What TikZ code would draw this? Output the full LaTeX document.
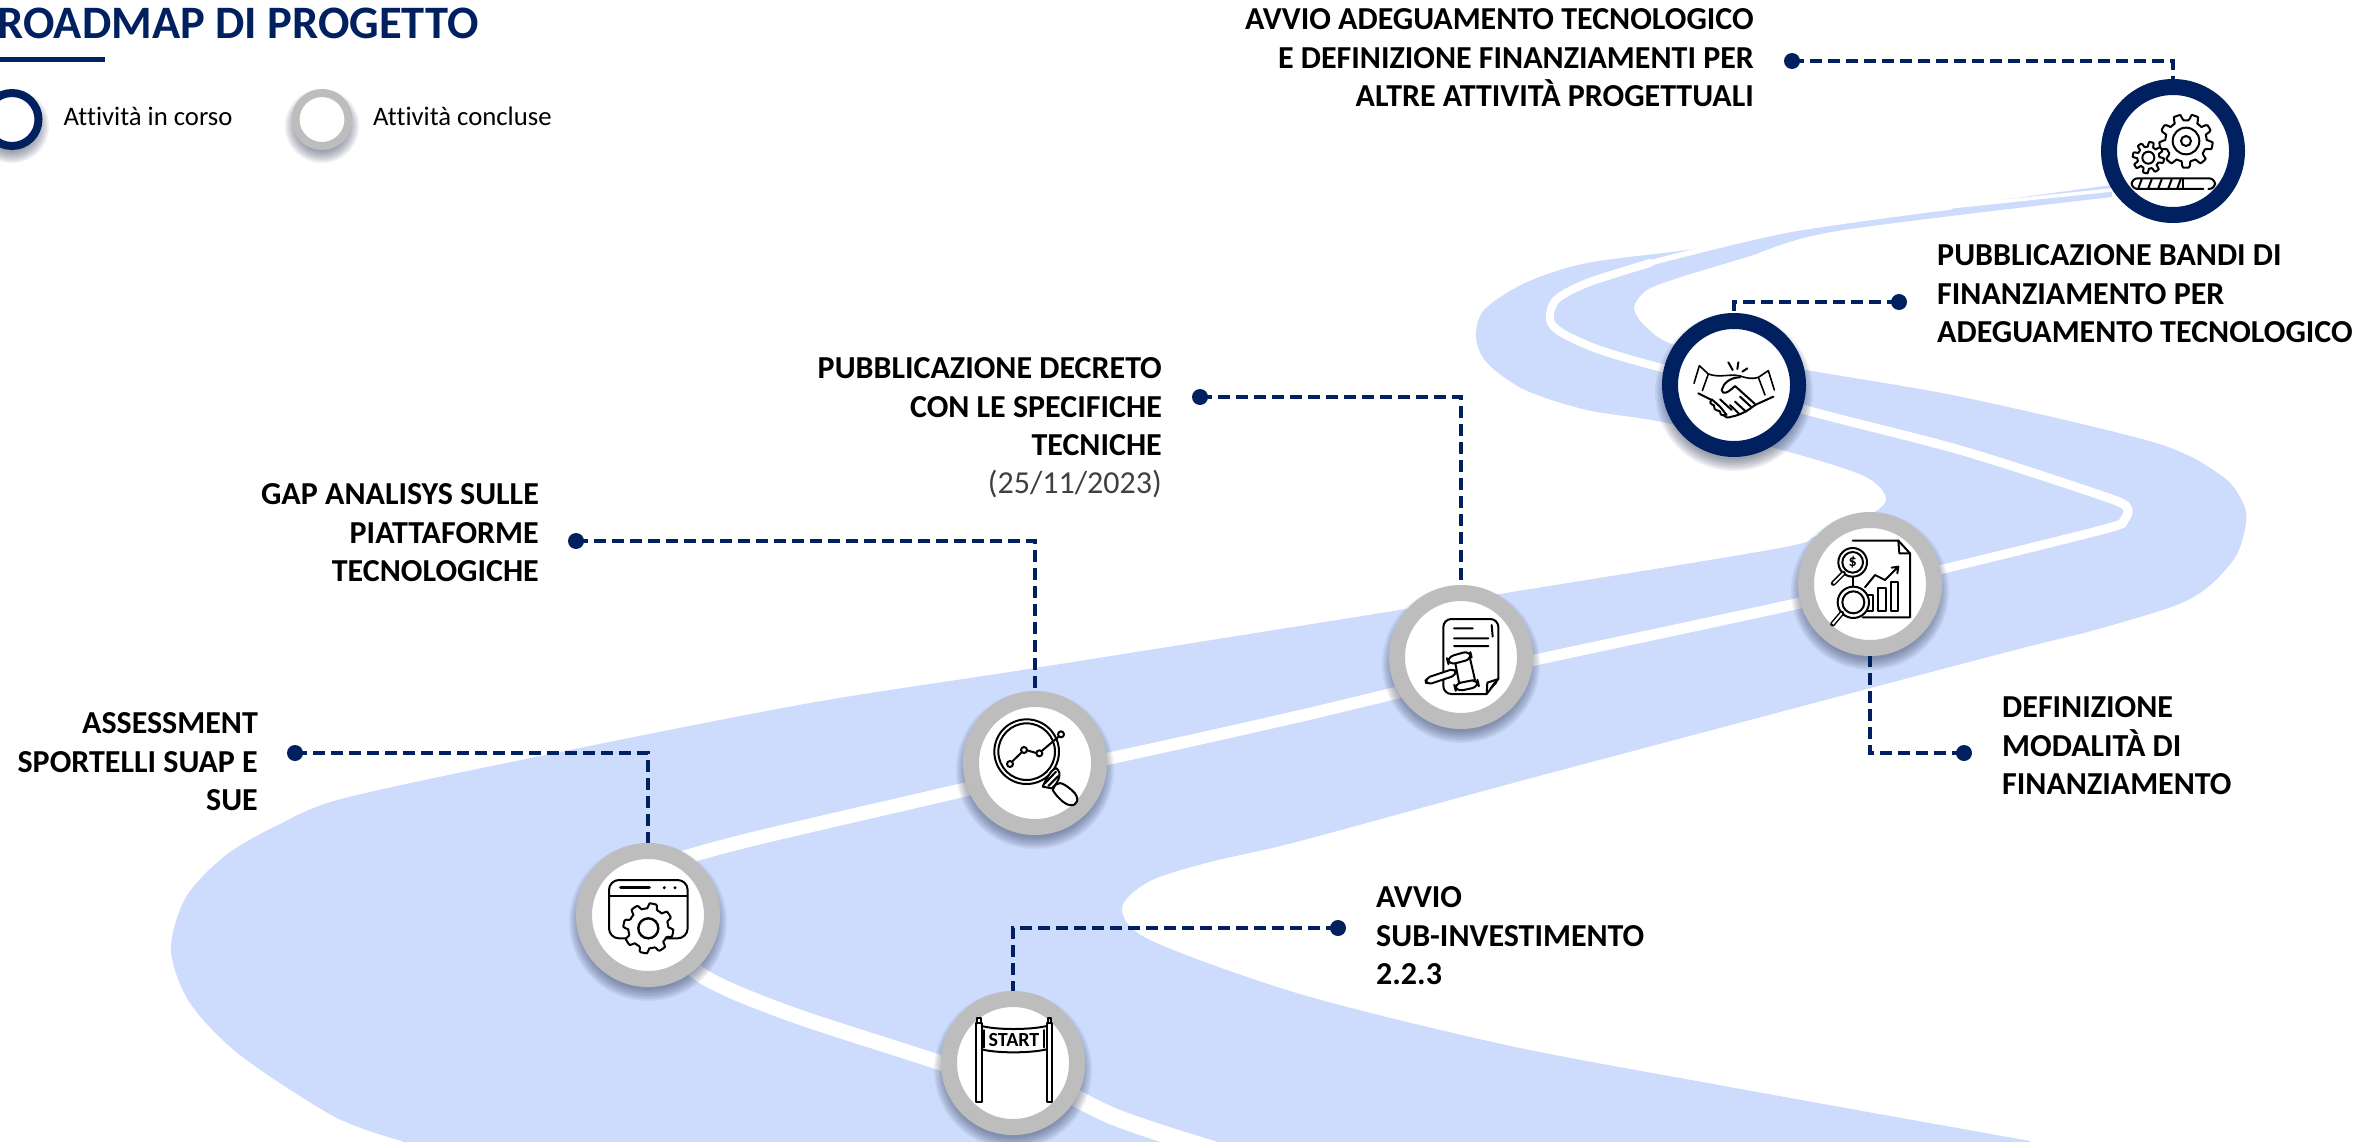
\documentclass[tikz,border=0pt]{standalone}
\usepackage{fontspec}
\setmainfont[Ligatures=NoCommon]{Carlito}
\definecolor{navy}{HTML}{002060}
\definecolor{road}{HTML}{CDDBFD}
\definecolor{ringg}{HTML}{BDBDBD}
\definecolor{shad}{HTML}{2A3550}
\newcommand{\softshadow}[3]{%
  \foreach \k in {0,...,7}{\fill[shad,opacity=0.07] (#1,#2+7) circle ({#3+7-1.6*\k});}}
\newcommand{\gearicon}[6]{% cx cy outer depth teeth fill
  \draw[iconline,fill=#6] plot[domain=0:360,samples=121] ({#1+(#3-#4/2+#4/2*max(min(3*sin(#5*\x),1),-1))*cos(\x)},{#2+(#3-#4/2+#4/2*max(min(3*sin(#5*\x),1),-1))*sin(\x)}) -- cycle;}
\tikzset{
  x=1pt,y=-1pt,
  lab/.style={font=\fontsize{32}{38.4}\selectfont\bfseries,inner sep=0pt,text=black},
  labr/.style={lab,align=right,anchor=east},
  labl/.style={lab,align=left,anchor=west},
  navyring/.style={circle,draw=navy,fill=white,line width=16pt,minimum size=128pt,inner sep=0pt},
  grayring/.style={circle,draw=ringg,fill=white,line width=16pt,minimum size=128pt,inner sep=0pt},
  dotmark/.style={circle,fill=navy,minimum size=16pt,inner sep=0pt},
  conn/.style={draw=navy,line width=3.3pt,dash pattern=on 12pt off 6pt},
  iconline/.style={draw=black,line width=2pt,line join=round,line cap=round},
  whiteline/.style={draw=white,line cap=round,line join=round},
}
\begin{document}
\begin{tikzpicture}
\clip (0,0) rectangle (2379,1141);
\fill[white] (0,0) rectangle (2379,1141);
% road
\fill[road] plot[smooth,tension=0.5] coordinates {(402,1141) (335,1117) (240,1055) (190,1003) (171,950) (186,897) (226,855) (278,825) (345,798) (555,753) (810,703) (1035,668) (1412,608) (1769,550) (1816,536) (1871,514) (1886,498) (1864,476) (1782,450) (1662,422) (1587,410) (1525,390) (1487,363) (1476,337) (1484,310) (1525,283) (1587,263) (1700,248) (1837,223) (2112,185)}
 -- plot[smooth,tension=0.5] coordinates {(2112,197) (1837,231) (1744,258) (1681,277) (1647,290) (1634,308) (1647,328) (1681,347) (1806,370) (1962,397) (2156,443) (2222,476) (2243,503) (2246,523) (2236,556) (2208,587) (2174,606) (2091,631) (1988,657) (1524,780) (1300,841) (1210,862) (1150,881) (1122,908) (1150,940) (1300,994) (1506,1045) (1713,1084) (2030,1141)}
 -- (2030,1160) -- (402,1160) -- cycle;
% centre line, narrowing along the road
\draw[whiteline,line width=17pt] plot[smooth,tension=0.5] coordinates {(1013,1063) (1110,1115) (1215,1150)};
\draw[whiteline,line width=15pt] plot[smooth,tension=0.5] coordinates {(648,915) (698,973) (788,1013) (941,1063) (1013,1090)};
\draw[whiteline,line width=14pt] plot[smooth,tension=0.5] coordinates {(648,870) (686,857) (761,837) (963,790) (1035,772)};
\draw[whiteline,line width=12pt] plot[smooth,tension=0.5] coordinates {(1035,772) (1116,757) (1300,716) (1461,677)};
\draw[whiteline,line width=11pt] plot[smooth,tension=0.5] coordinates {(1461,677) (1535,660) (1800,603) (1870,584)};
\draw[whiteline,line width=9pt] plot[smooth,tension=0.5] coordinates {(1870,584) (1943,569) (2105,529) (2124,520) (2126,506) (2091,492) (1960,450) (1806,410) (1734,385)};
\draw[whiteline,line width=8pt] plot[smooth,tension=0.5] coordinates {(1734,385) (1662,368) (1600,350) (1562,333) (1550,320) (1556,300) (1587,283) (1650,263)};
\draw[whiteline,line width=5.5pt] plot[smooth,tension=0.5] coordinates {(1650,263) (1787,230) (1950,207)};
\draw[whiteline,line width=3.5pt] plot[smooth,tension=0.5] coordinates {(1950,207) (2112,190) (2172,185)};
% shadows
\softshadow{1734}{385}{72}
\softshadow{1870}{584}{72}
\softshadow{1461}{657}{72}
\softshadow{1035}{763}{72}
\softshadow{648}{915}{72}
\softshadow{1013}{1063}{72}
\softshadow{12}{119}{30}
\softshadow{322}{119}{30}
% rings
\node[navyring] (gears) at (2173,151) {};
\node[navyring] (hands) at (1734,385) {};
\node[grayring] (chart) at (1870,584) {};
\node[grayring] (decree) at (1461,657) {};
\node[grayring] (lens) at (1035,763) {};
\node[grayring] (window) at (648,915) {};
\node[grayring] (start) at (1013,1063) {};
% dots
\node[dotmark] (d1) at (1792,61) {};
\node[dotmark] (d2) at (1899,302) {};
\node[dotmark] (d3) at (1200,397) {};
\node[dotmark] (d4) at (576,541) {};
\node[dotmark] (d5) at (295,753) {};
\node[dotmark] (d6) at (1338,928) {};
\node[dotmark] (d7) at (1964,753) {};
% connectors
\draw[conn] (d1.center) -| (gears.north);
\draw[conn] (d2.center) -| (hands.north);
\draw[conn] (d3.center) -| (decree.north);
\draw[conn] (d4.center) -| (lens.north);
\draw[conn] (d5.center) -| (window.north);
\draw[conn] (d6.center) -| (start.north);
\draw[conn] (d7.center) -| (chart.south);
% labels
\node[labr] (t1) at (1754,58) {AVVIO ADEGUAMENTO TECNOLOGICO\\E DEFINIZIONE FINANZIAMENTI PER\\ALTRE ATTIVITÀ PROGETTUALI};
\node[labl] (t2) at (1937,294) {PUBBLICAZIONE BANDI DI\\FINANZIAMENTO PER\\ADEGUAMENTO TECNOLOGICO};
\node[labl] (t3) at (2002,746) {DEFINIZIONE\\MODALITÀ DI\\FINANZIAMENTO};
\node[labl] (t4) at (1376,936) {AVVIO\\SUB-INVESTIMENTO\\2.2.3};
\node[labr] (t5) at (1162,428) {PUBBLICAZIONE DECRETO\\CON LE SPECIFICHE\\TECNICHE\\{\mdseries\color[HTML]{404040}(25/11/2023)}};
\node[labr] (t6) at (539,533) {GAP ANALISYS SULLE\\PIATTAFORME\\TECNOLOGICHE};
\node[labr] (t7) at (258,762) {ASSESSMENT\\SPORTELLI SUAP E\\SUE};
% title and legend
\node[font=\fontsize{46.5}{50}\selectfont\bfseries,text=navy,inner sep=0pt,anchor=east] (title) at (479,23) {ROADMAP DI PROGETTO};
\fill[navy] (0,57) rectangle (105,62);
\node[circle,draw=navy,fill=white,line width=8pt,minimum size=53pt,inner sep=0pt] (lg1) at (12,119.5) {};
\node[circle,draw=ringg,fill=white,line width=8pt,minimum size=53pt,inner sep=0pt] (lg2) at (322,119.5) {};
\node[font=\fontsize{26.7}{30}\selectfont,inner sep=0pt,anchor=base west] (lt1) at (63.5,125) {Attività in corso};
\node[font=\fontsize{26.7}{30}\selectfont,inner sep=0pt,anchor=base west] (lt2) at (373,125) {Attività concluse};
% icon: gears
\begin{scope}[shift={(2060,60)},scale=0.3333]
\gearicon{378}{243}{80}{18}{9}{white}
\draw[iconline] (378,243) circle (40);
\draw[iconline] (378,243) circle (15);
\gearicon{265}{293}{47}{14}{8}{white}
\draw[iconline] (265,293) circle (18);
\draw[iconline,rounded corners=6] (430,387) -- (215,387) -- (215,355) -- (465,355) -- (465,387) -- (445,387);
\draw[iconline] (368,355) -- (368,387);
\foreach \u in {235,265,295,325,352}{\draw[iconline] (\u,385) -- (\u+10,358);}
\end{scope}
% icon: handshake
\begin{scope}[shift={(1640,300)},scale=0.3333]
\draw[iconline,line width=1.6pt] (178,197) -- (162,250) (178,197) -- (205,222) -- (187,272);
\draw[iconline,line width=1.6pt] (355,232) -- (385,212) -- (403,270) (355,232) -- (375,285);
\draw[iconline,line width=1.6pt] (205,222) .. controls (240,235) and (270,220) .. (300,228) .. controls (320,235) and (340,238) .. (355,232);
\draw[iconline] (175,280) -- (215,300);
\draw[iconline] (400,290) -- (345,315) .. controls (320,335) and (300,345) .. (275,350) .. controls (262,355) and (255,352) .. (250,345);
\draw[iconline] (300,232) .. controls (270,232) and (250,250) .. (245,270) .. controls (248,285) and (262,280) .. (285,258) -- (345,312);
\draw[iconline] (215,300) .. controls (200,315) and (230,315) .. (222,318) .. controls (220,335) and (240,330) .. (240,335) .. controls (240,350) and (255,345) .. (255,345);
\draw[iconline] (215,298) -- (240,320) -- (260,345) (240,298) -- (275,330);
\draw[iconline] (270,315) -- (298,342) (285,305) -- (318,335) (300,290) -- (335,322);
\draw[iconline] (265,187) -- (278,210) (295,187) -- (292,207) (322,205) -- (307,215);
\end{scope}
% icon: chart
\begin{scope}[shift={(1780,500)},scale=0.3333]
\draw[iconline] (218,122) -- (355,122) -- (390,160) -- (390,352) -- (248,352);
\draw[iconline] (355,122) -- (358,160) -- (390,160);
\draw[iconline] (218,187) circle (43);
\draw[iconline] (218,187) circle (31);
\node[font=\fontsize{16}{16}\selectfont\bfseries,inner sep=0pt] (dollar) at (218,187) {\$};
\draw[iconline,line width=5pt] (190,220) -- (160,250);
\draw[draw=white,line width=2pt] (190,220) -- (160,250);
\draw[iconline] (218,230) -- (218,260);
\draw[iconline,fill=white] (295,265) rectangle (317,332);
\draw[iconline,fill=white] (332,247) rectangle (354,332);
\draw[iconline,fill=white] (255,285) rectangle (278,332);
\draw[iconline,fill=white] (220,307) circle (47);
\draw[iconline,fill=white] (220,307) circle (33);
\draw[iconline,line width=5pt] (185,340) -- (158,372);
\draw[draw=white,line width=2pt] (185,340) -- (158,372);
\draw[iconline] (255,262) -- (285,225) -- (315,240) -- (355,200) (335,203) -- (355,200) -- (352,220);
\end{scope}
% icon: decree
\begin{scope}[shift={(1380,580)},scale=0.3333]
\draw[iconline,rounded corners=8] (320,342) -- (190,342) -- (190,117) -- (355,117) -- (355,297);
\draw[iconline] (320,342) -- (355,297) -- (322,308) -- cycle;
\draw[iconline,line width=1pt] (330,325) -- (345,305) (338,320) -- (350,308);
\draw[iconline] (222,145) -- (278,145) (222,175) -- (325,175) (222,198) -- (325,198) (335,135) -- (338,170);
\draw[iconline,fill=white,rounded corners=5] (135,295) -- (225,265) -- (230,285) -- (140,315) -- cycle;
\draw[iconline,fill=white] (225,245) -- (270,235) -- (285,300) -- (238,312) -- cycle;
\draw[iconline,fill=white,rounded corners=7] (200,232) -- (270,212) -- (276,237) -- (206,255) -- cycle;
\draw[iconline,fill=white,rounded corners=7] (222,312) -- (292,298) -- (297,320) -- (228,335) -- cycle;
\end{scope}
% icon: magnifier
\begin{scope}[shift={(950,690)},scale=0.3333]
\draw[iconline] (230,185) circle (97);
\draw[iconline] (230,185) circle (85);
\draw[iconline,fill=white] (180,222) circle (9);
\draw[iconline,fill=white] (222,180) circle (9);
\draw[iconline,fill=white] (268,190) circle (9);
\draw[iconline,fill=white] (333,133) circle (9);
\draw[iconline] (186,215) -- (215,187) (231,181) -- (259,189) (275,183) -- (326,140);
\draw[iconline,fill=white] (278,290) .. controls (290,265) and (305,235) .. (320,235) .. controls (335,245) and (330,275) .. (305,295) -- cycle;
\draw[iconline,fill=white] (308,300) .. controls (320,270) and (335,275) .. (365,300) .. controls (395,325) and (380,350) .. (360,345) .. controls (345,345) and (320,320) .. (308,300) -- cycle;
\draw[iconline] (285,280) -- (318,245) (295,288) -- (325,258);
\end{scope}
% icon: window
\begin{scope}[shift={(560,840)},scale=0.3333]
\draw[iconline,rounded corners=10] (147,295) -- (147,120) -- (383,120) -- (383,295) -- cycle;
\draw[iconline] (147,168) -- (383,168);
\draw[iconline,line width=3pt] (182,142) -- (268,142);
\fill (313,143) circle (5) (345,143) circle (5);
\gearicon{265}{265}{75}{15}{8}{white}
\draw[iconline,line width=2.4pt] (265,265) circle (30);
\end{scope}
% icon: start banner
\begin{scope}[shift={(930,990)},scale=0.3333]
\draw[iconline] (138,100) rectangle (155,335);
\draw[iconline] (350,100) rectangle (365,335);
\draw[iconline] (141,100) -- (141,85) -- (153,85) -- (153,100);
\draw[iconline] (353,100) -- (353,85) -- (363,85) -- (363,100);
\draw[iconline] (155,178) .. controls (200,190) and (300,190) .. (350,178);
\draw[iconline] (155,108) .. controls (200,120) and (300,120) .. (350,108);
\draw[iconline] (163,120) -- (163,172) (343,120) -- (343,172);
\node[font=\fontsize{20}{20}\selectfont\bfseries,inner sep=0pt] (starttext) at (252,150) {START};
\end{scope}
\end{tikzpicture}
\end{document}
